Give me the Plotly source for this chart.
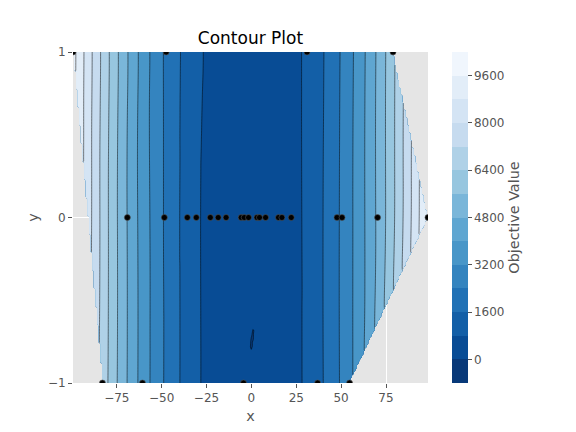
import numpy as np
import plotly.graph_objects as go

# ---------------- data ----------------
title_text = "Contour Plot"
x_label = "x"
y_label = "y"
cbar_label = "Objective Value"

trial_x = [-99.4, -47.5, 31.0, 78.9,
           -69.1, -48.5, -35.7, -30.7, -22.9, -18.5, -14.1, -5.7, -4.0, -1.6,
           3.1, 4.5, 7.9, 15.1, 17.0, 22.2, 47.7, 50.5, 70.3, 98.4,
           -83.0, -60.7, -4.4, 36.9, 54.7]
trial_y = [1, 1, 1, 1,
           0, 0, 0, 0, 0, 0, 0, 0, 0, 0,
           0, 0, 0, 0, 0, 0, 0, 0, 0, 0,
           -1, -1, -1, -1, -1]
trial_value = [9881.4, 2257.3, 962.0, 6226.2,
               4774.8, 2352.3, 1274.5, 942.5, 524.4, 342.3, 198.8, 32.5, 16.0, 2.6,
               9.6, 20.3, 62.4, 228.0, 289.0, 492.8, 2275.3, 2550.3, 4942.1, 9682.6,
               6888.0, 3683.5, 18.4, 1360.6, 2991.1]

x_ticks = [-75, -50, -25, 0, 25, 50, 75]
y_ticks = [-1, 0, 1]
cbar_ticks = [0, 1600, 3200, 4800, 6400, 8000, 9600]
level_lo, level_hi, level_step = -800, 10400, 800

# ---------------- interpolation of trial values on a grid ----------------
px = np.asarray(trial_x, float)
py = np.asarray(trial_y, float)
pz = np.asarray(trial_value, float)
GRID_N = 220
xi = np.linspace(px.min(), px.max(), GRID_N)
yi = np.linspace(py.min(), py.max(), GRID_N)
XI, YI = np.meshgrid(xi, yi)

method = "linear"
try:
    from scipy.interpolate import griddata
    zi = griddata(np.column_stack([px, py]), pz, (XI, YI), method="cubic")
    method = "cubic"
except Exception:
    def triangulate(u, v):
        n = len(u)
        pts = list(zip(u, v)) + [(-100.0, -100.0), (100.0, -100.0), (0.0, 100.0)]
        tris = {(n, n + 1, n + 2)}
        cache = {}

        def circum(t):
            (ax, ay), (bx, by), (cx, cy) = pts[t[0]], pts[t[1]], pts[t[2]]
            d = 2 * (ax * (by - cy) + bx * (cy - ay) + cx * (ay - by))
            a2, b2, c2 = ax * ax + ay * ay, bx * bx + by * by, cx * cx + cy * cy
            ux = (a2 * (by - cy) + b2 * (cy - ay) + c2 * (ay - by)) / d
            uy = (a2 * (cx - bx) + b2 * (ax - cx) + c2 * (bx - ax)) / d
            return ux, uy, (ax - ux) ** 2 + (ay - uy) ** 2

        for i in range(n):
            x, y = pts[i]
            bad = []
            for t in tris:
                if t not in cache:
                    cache[t] = circum(t)
                cx, cy, r2 = cache[t]
                if (x - cx) ** 2 + (y - cy) ** 2 < r2:
                    bad.append(t)
            edges = {}
            for t in bad:
                for e in ((t[0], t[1]), (t[1], t[2]), (t[2], t[0])):
                    k = tuple(sorted(e))
                    edges[k] = edges.get(k, 0) + 1
            for t in bad:
                tris.discard(t)
            for (a, b), c in edges.items():
                if c == 1:
                    tris.add((a, b, i))
        return [t for t in tris if max(t) < n]

    u = (px - px.mean()) / np.ptp(px)
    v = (py - py.mean()) / np.ptp(py)
    v = v + 1e-3 * u ** 2  # break exact collinearity for the triangulation
    tris = triangulate(list(u), list(v))
    zi = np.full(XI.shape, np.nan)
    for a, b, c in tris:
        x1, y1, x2, y2, x3, y3 = px[a], py[a], px[b], py[b], px[c], py[c]
        det = (y2 - y3) * (x1 - x3) + (x3 - x2) * (y1 - y3)
        if abs(det) < 1e-9:
            continue
        l1 = ((y2 - y3) * (XI - x3) + (x3 - x2) * (YI - y3)) / det
        l2 = ((y3 - y1) * (XI - x3) + (x1 - x3) * (YI - y3)) / det
        l3 = 1 - l1 - l2
        m = (l1 >= -1e-9) & (l2 >= -1e-9) & (l3 >= -1e-9)
        zi[m] = (l1 * pz[a] + l2 * pz[b] + l3 * pz[c])[m]

# ---------------- colours (matplotlib "Blues", reversed, 14 bands) ----------------
blues = [(247, 251, 255), (222, 235, 247), (198, 219, 239), (158, 202, 225),
         (107, 174, 214), (66, 146, 198), (33, 113, 181), (8, 81, 156), (8, 48, 107)]


def blues_at(t):
    pos = t * 8
    i = min(int(pos), 7)
    f = pos - i
    c = [blues[i][k] + (blues[i + 1][k] - blues[i][k]) * f for k in range(3)]
    return "rgb(%d,%d,%d)" % tuple(round(x) for x in c)


n_bands = int(round((level_hi - level_lo) / level_step))
band_colors = [blues_at(1 - (k + 0.5) / n_bands) for k in range(n_bands)]
contour_scale = [[k / (n_bands - 1), band_colors[k]] for k in range(n_bands)]
bar_scale = []
for k, c in enumerate(band_colors):
    bar_scale += [[k / n_bands, c], [(k + 1) / n_bands, c]]

zlist = [[None if np.isnan(val) else float(val) for val in row] for row in zi]

FONT = "DejaVu Sans"
GREY = "#555555"

fig = go.Figure()
fig.add_trace(go.Contour(
    x=xi, y=yi, z=zlist,
    autocontour=False,
    contours=dict(start=level_lo + level_step, end=level_hi - level_step,
                  size=level_step, coloring="fill", showlines=True),
    colorscale=contour_scale,
    line=dict(color="rgba(0,0,0,0.85)", width=0.6),
    connectgaps=False,
    showscale=False,
    hoverinfo="skip",
))
fig.add_trace(go.Scatter(
    x=trial_x, y=trial_y, mode="markers",
    marker=dict(color="black", size=6, line=dict(color="#555555", width=0.6)),
    showlegend=False, hoverinfo="skip",
))
fig.add_trace(go.Scatter(
    x=[None], y=[None], mode="markers", showlegend=False, hoverinfo="skip",
    marker=dict(color=[level_lo], cmin=level_lo, cmax=level_hi, colorscale=bar_scale,
                showscale=True,
                colorbar=dict(x=1.068, xanchor="left", xpad=0, y=0.5, yanchor="middle",
                              ypad=0, len=1.0, lenmode="fraction", thickness=16,
                              outlinewidth=0, ticks="outside", ticklen=4,
                              tickcolor=GREY, tickvals=cbar_ticks,
                              ticktext=[str(t) for t in cbar_ticks],
                              tickfont=dict(family=FONT, size=12, color=GREY),
                              title=dict(text=cbar_label, side="right",
                                         font=dict(family=FONT, size=14.4, color=GREY)))),
))

fig.update_layout(
    width=576, height=432,
    margin=dict(l=73, r=148, t=52, b=49),
    paper_bgcolor="white", plot_bgcolor="#E5E5E5",
    font=dict(family=FONT, size=12, color=GREY),
    title=dict(text=title_text, x=(73 + 355 / 2) / 576, xanchor="center",
               y=1 - 38 / 432, yanchor="middle",
               font=dict(family=FONT, size=17, color="black")),
    showlegend=False,
)
fig.update_xaxes(range=[px.min(), px.max()], tickvals=x_ticks, ticks="outside", ticklen=4,
                 tickcolor=GREY, tickfont=dict(size=12, color=GREY),
                 showgrid=True, gridcolor="white", gridwidth=1, zeroline=False,
                 showline=False,
                 title=dict(text=x_label, font=dict(size=14.4, color=GREY), standoff=6))
fig.update_yaxes(range=[py.min(), py.max()], tickvals=y_ticks, ticks="outside", ticklen=4,
                 tickcolor=GREY, tickfont=dict(size=12, color=GREY),
                 showgrid=True, gridcolor="white", gridwidth=1, zeroline=False,
                 showline=False,
                 title=dict(text=y_label, font=dict(size=14.4, color=GREY), standoff=5))

fig.write_html("out.html")
print("interpolation:", method)
